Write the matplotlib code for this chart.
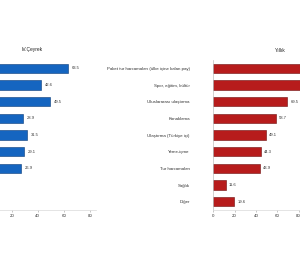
import numpy as np
import matplotlib.pyplot as plt

# Kategoriler (sag panel etiketleri)
categories = ['Paket tur harcamaları (ülke içine kalan pay)', 'Spor, eğitim, kültür',
              'Uluslararası ulaştırma', 'Konaklama', 'Ulaştırma (Türkiye içi)',
              'Yeme-içme', 'Tur harcamaları', 'Sağlık', 'Diğer']

# IV. Ceyrek (sol panel, 7 cubuk)
q4_values = [63.5, 42.6, 49.5, 28.9, 31.5, 29.1, 26.9]
# Yillik (sag panel)
year_values = [92.0, 86.0, 69.5, 58.7, 49.1, 44.3, 43.9, 11.6, 19.6]

left_ticks = [20, 40, 60, 80]
right_ticks = [0, 20, 40, 60, 80]

plt.rcParams['font.family'] = ['Liberation Sans', 'DejaVu Sans']

fig = plt.figure(figsize=(3.0, 2.66), dpi=100)
W, H = 300.0, 266.0

def place(x0, x1, y0, y1):
    return [x0 / W, 1 - y1 / H, (x1 - x0) / W, (y1 - y0) / H]

# 1.3 px / birim sol, 1.067 px / birim sag
ax1 = fig.add_axes(place(-14.3, 96.2, 60, 210))
ax2 = fig.add_axes(place(213.3, 300, 60, 210))

def style(ax, xmax, ticks):
    ax.set_ylim(8.5, -0.5)
    ax.set_xlim(0, xmax)
    ax.set_xticks(ticks)
    ax.tick_params(axis='x', labelsize=3.2, length=1.5, width=0.4, color='#999999',
                   pad=1.5, labelcolor='#333333')
    for s in ['top', 'right']:
        ax.spines[s].set_visible(False)
    ax.spines['bottom'].set_color('#d9d9d9')
    ax.spines['bottom'].set_linewidth(0.5)

# sol panel
y1 = np.arange(len(q4_values))
ax1.barh(y1, q4_values, height=0.55, color='#1565c0', edgecolor='#0b3c78', linewidth=0.4)
for y, v in zip(y1, q4_values):
    ax1.text(v + 3, y, f'{v:.1f}', va='center', ha='left', fontsize=3, color='#333333')
style(ax1, 85, left_ticks)
ax1.spines['left'].set_visible(False)
ax1.set_yticks([])
fig.text(31.7 / W, 1 - 50 / H, 'IV.Çeyrek', ha='center', va='center', fontsize=3.5, color='#222222')

# sag panel
y2 = np.arange(len(year_values))
ax2.barh(y2, year_values, height=0.55, color='#b71c1c', edgecolor='#6d0f0f', linewidth=0.4)
for y, v in zip(y2, year_values):
    if v + 3 < 78:
        ax2.text(v + 3, y, f'{v:.1f}', va='center', ha='left', fontsize=3, color='#333333')
style(ax2, 81.3, right_ticks)
ax2.spines['left'].set_color('#bfbfbf')
ax2.spines['left'].set_linewidth(0.5)
ax2.set_yticks(y2)
ax2.set_yticklabels(categories)
ax2.tick_params(axis='y', length=0, labelsize=3.2, pad=17, labelcolor='#333333')
fig.text(280 / W, 1 - 50 / H, 'Yıllık', ha='center', va='center', fontsize=3.5, color='#222222')

fig.savefig('out.png', dpi=100)
